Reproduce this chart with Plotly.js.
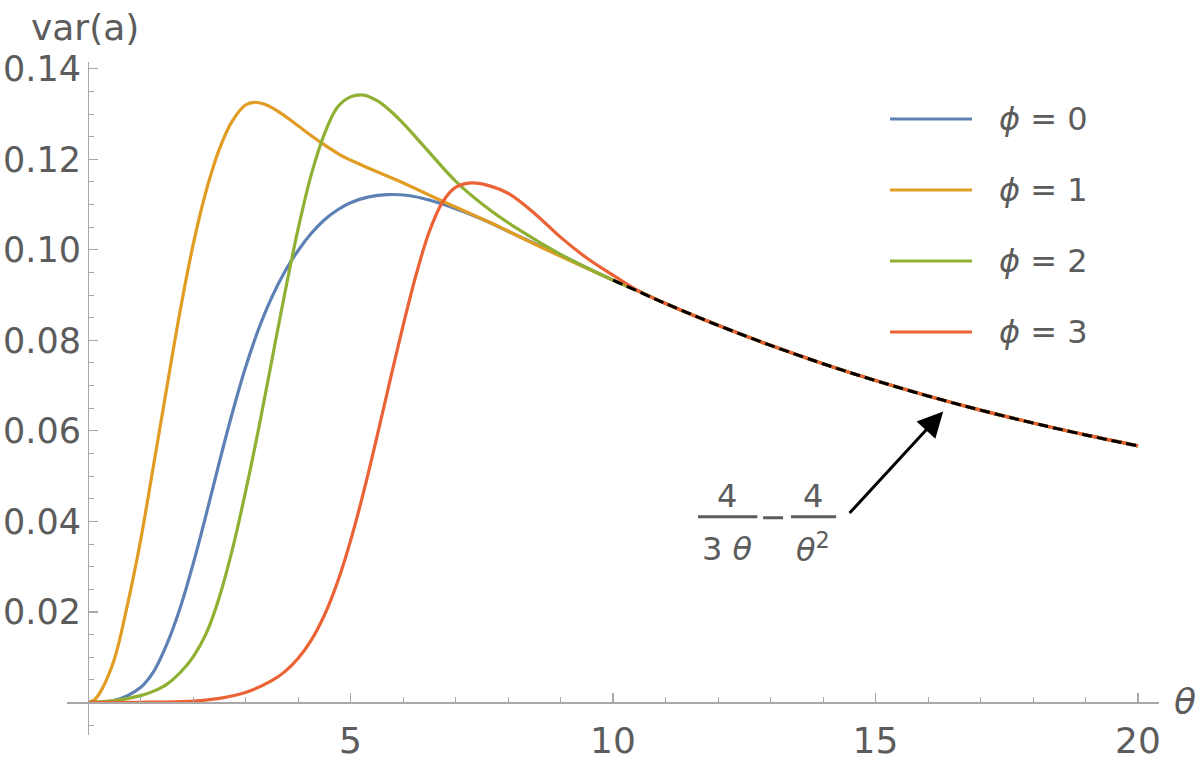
<!DOCTYPE html>
<html>
<head>
<meta charset="utf-8">
<script src="https://cdn.plot.ly/plotly-3.0.1.min.js"></script>
<style>html,body{margin:0;padding:0;background:#fff;}#chart{width:1200px;height:761px;}</style>
</head>
<body>
<div id="chart"></div>
<script>
// ---- data ----
const seriesNames = ["ϕ = 0", "ϕ = 1", "ϕ = 2", "ϕ = 3"];
const seriesColors = ["#5E81B5", "#E19C24", "#8FB032", "#EB6235"];

// common tail (all curves merge onto 4/(3θ) − 4/θ² beyond θ≈10)
const tailTheta = [10.5, 11, 12, 13, 14, 15, 16, 17, 18, 19, 20];
const tailVar   = [0.0908, 0.08815, 0.08333, 0.07890, 0.07483, 0.07111, 0.06771, 0.06459, 0.06173, 0.05910, 0.05667];

const theta0 = [0, 0.5, 1.0, 1.25, 1.5, 1.75, 2.0, 2.25, 2.5, 2.75, 3.0, 3.25, 3.5, 3.75, 4.0, 4.25, 4.5, 4.75, 5.0, 5.35, 5.7, 6.1, 6.5, 6.9, 7.5, 8.2, 9.0, 10];
const var0   = [0, 0.0004, 0.0033, 0.0068, 0.0128, 0.0207, 0.0305, 0.0415, 0.0530, 0.0640, 0.0740, 0.0825, 0.0895, 0.0952, 0.0998, 0.1036, 0.1066, 0.1088, 0.1104, 0.1117, 0.1122, 0.1120, 0.1110, 0.1095, 0.1068, 0.1030, 0.0988, 0.0933];

const theta1 = [0, 0.125, 0.25, 0.5, 0.75, 1.0, 1.25, 1.5, 1.75, 2.0, 2.25, 2.5, 2.75, 3.0, 3.17, 3.4, 3.7, 4.0, 4.4, 4.8, 5.2, 5.9, 6.8, 7.7, 8.5, 9.2, 10];
const var1   = [0, 0.0006, 0.0026, 0.0095, 0.0215, 0.0357, 0.0525, 0.0695, 0.0862, 0.1010, 0.1130, 0.1222, 0.1285, 0.1320, 0.1326, 0.1320, 0.1300, 0.1274, 0.1240, 0.1210, 0.1188, 0.1153, 0.1105, 0.1058, 0.1013, 0.0975, 0.0933];

const theta2 = [0, 0.5, 1.0, 1.25, 1.5, 1.75, 2.0, 2.25, 2.5, 2.75, 3.0, 3.25, 3.5, 3.75, 4.0, 4.25, 4.5, 4.75, 5.0, 5.25, 5.5, 5.75, 6.0, 6.45, 7.0, 7.6, 8.2, 9.0, 10];
const var2   = [0, 0.0004, 0.0015, 0.0025, 0.0040, 0.0065, 0.0100, 0.0152, 0.0232, 0.0338, 0.0465, 0.0605, 0.0755, 0.0905, 0.1045, 0.1165, 0.1255, 0.1315, 0.1338, 0.1342, 0.1330, 0.1308, 0.1280, 0.1222, 0.1152, 0.1093, 0.1045, 0.0990, 0.0933];

const theta3 = [0, 1.0, 2.0, 2.5, 3.0, 3.5, 3.75, 4.0, 4.25, 4.5, 4.75, 5.0, 5.25, 5.5, 5.75, 6.0, 6.25, 6.5, 6.75, 7.0, 7.3, 7.6, 8.0, 8.5, 9.0, 9.5, 10.0];
const var3   = [0, 0.00003, 0.0003, 0.0009, 0.0022, 0.0048, 0.0068, 0.0097, 0.0137, 0.0192, 0.0265, 0.0357, 0.0465, 0.0585, 0.0710, 0.0832, 0.0945, 0.1040, 0.1105, 0.1138, 0.1148, 0.1143, 0.1125, 0.1081, 0.1028, 0.0982, 0.0944];

// dashed asymptote 4/(3θ) − 4/θ²
const thetaAsym = [10, 11, 12, 13, 14, 15, 16, 17, 18, 19, 20];
const varAsym   = [0.09333, 0.08815, 0.08333, 0.07890, 0.07483, 0.07111, 0.06771, 0.06459, 0.06173, 0.05910, 0.05667];

const xTickVals = [5, 10, 15, 20];
const xTickText = ["5", "10", "15", "20"];
const yTickVals = [0.02, 0.04, 0.06, 0.08, 0.10, 0.12, 0.14];
const yTickText = ["0.02", "0.04", "0.06", "0.08", "0.10", "0.12", "0.14"];

// ---- build ----
const heads = [[theta0, var0], [theta1, var1], [theta2, var2], [theta3, var3]];
const traces = heads.map((h, i) => {
  const last = h[0][h[0].length - 1];
  const keep = tailTheta.map(t => t > last);
  return {
    type: "scatter", mode: "lines",
    x: h[0].concat(tailTheta.filter((t, k) => keep[k])),
    y: h[1].concat(tailVar.filter((v, k) => keep[k])),
    line: {color: seriesColors[i], width: 3.2, shape: "spline", smoothing: 1},
    name: seriesNames[i], showlegend: false, hoverinfo: "skip"
  };
});
traces.push({
  type: "scatter", mode: "lines", x: thetaAsym, y: varAsym,
  line: {color: "#000000", width: 3, dash: "10px,5px", shape: "spline"},
  showlegend: false, hoverinfo: "skip"
});

const xr = [-0.4, 20.4], yr = [-0.0072, 0.1415];
const M = {l: 67, r: 41, t: 62, b: 26};
const W = 1200, H = 761;
const PW = W - M.l - M.r, PH = H - M.t - M.b;
const px = v => (v - M.l) / PW;          // pixel x -> paper
const py = v => (H - M.b - v) / PH;      // pixel y -> paper

const txtCol = "#5c5c5c", axCol = "#a8a8a8";
const FONT = "DejaVu Sans, Arial, sans-serif";

const shapes = [];
const annotations = [];

// custom legend (long line samples as in reference)
const legY = [119, 190, 261, 332];
seriesNames.forEach((n, i) => {
  shapes.push({type: "line", xref: "paper", yref: "paper", x0: px(890), x1: px(972), y0: py(legY[i]), y1: py(legY[i]),
    line: {color: seriesColors[i], width: 3.2}});
  annotations.push({xref: "paper", yref: "paper", x: px(997), y: py(legY[i]), xanchor: "left", yanchor: "middle",
    showarrow: false, text: "<i>ϕ</i>" + n.slice(1), font: {family: FONT, size: 32, color: txtCol}});
});

// axis labels
annotations.push({xref: "paper", yref: "paper", x: px(85), y: py(28), xanchor: "center", yanchor: "middle",
  showarrow: false, text: "var(a)", font: {family: FONT, size: 36, color: txtCol}});
annotations.push({xref: "paper", yref: "paper", x: px(1185), y: py(701), xanchor: "center", yanchor: "middle",
  showarrow: false, text: "<i>θ</i>", font: {family: FONT, size: 36, color: txtCol}});

// formula label 4/(3θ) − 4/θ² (in data coordinates)
const fFont = {family: FONT, size: 32, color: txtCol};
annotations.push({x: 12.17, y: 0.0456, showarrow: false, text: "4", font: fFont, xanchor: "center", yanchor: "middle"});
annotations.push({x: 13.80, y: 0.0456, showarrow: false, text: "4", font: fFont, xanchor: "center", yanchor: "middle"});
annotations.push({x: 12.17, y: 0.0340, showarrow: false, text: "3 <i>θ</i>", font: fFont, xanchor: "center", yanchor: "middle"});
annotations.push({x: 13.80, y: 0.0342, showarrow: false, text: "<i>θ</i><sup>2</sup>", font: fFont, xanchor: "center", yanchor: "middle"});
shapes.push({type: "line", x0: 11.62, x1: 12.75, y0: 0.0410, y1: 0.0410, line: {color: txtCol, width: 3}});
shapes.push({type: "line", x0: 12.86, x1: 13.24, y0: 0.0408, y1: 0.0408, line: {color: txtCol, width: 3}});
shapes.push({type: "line", x0: 13.39, x1: 14.25, y0: 0.0410, y1: 0.0410, line: {color: txtCol, width: 3}});

// arrow
annotations.push({x: 16.29, y: 0.0643, ax: 14.48, ay: 0.0415, axref: "x", ayref: "y", text: "",
  showarrow: true, arrowhead: 2, arrowsize: 1.7, arrowwidth: 3, arrowcolor: "#000000"});

const layout = {
  width: W, height: H, margin: M,
  paper_bgcolor: "#ffffff", plot_bgcolor: "#ffffff",
  showlegend: false,
  xaxis: {
    range: xr, anchor: "free", position: -yr[0] / (yr[1] - yr[0]),
    showline: true, linecolor: axCol, linewidth: 1.2, zeroline: false, showgrid: false,
    ticks: "inside", ticklen: 9, tickwidth: 1.2, tickcolor: axCol,
    tickmode: "array", tickvals: xTickVals, ticktext: xTickText,
    minor: {tickmode: "array", tickvals: [1,2,3,4,6,7,8,9,11,12,13,14,16,17,18,19], ticks: "inside", ticklen: 5, tickwidth: 1, tickcolor: axCol},
    tickfont: {family: FONT, size: 36, color: txtCol}, ticklabelstandoff: 6
  },
  yaxis: {
    range: yr, anchor: "free", position: -xr[0] / (xr[1] - xr[0]),
    showline: true, linecolor: axCol, linewidth: 1.2, zeroline: false, showgrid: false,
    ticks: "inside", ticklen: 9, tickwidth: 1.2, tickcolor: axCol,
    tickmode: "array", tickvals: yTickVals, ticktext: yTickText,
    minor: {tickmode: "array", tickvals: [-0.005,0.005,0.01,0.015,0.025,0.03,0.035,0.045,0.05,0.055,0.065,0.07,0.075,0.085,0.09,0.095,0.105,0.11,0.115,0.125,0.13,0.135], ticks: "inside", ticklen: 5, tickwidth: 1, tickcolor: axCol},
    tickfont: {family: FONT, size: 35, color: txtCol}, ticklabelstandoff: 0
  },
  shapes: shapes,
  annotations: annotations
};

Plotly.newPlot("chart", traces, layout, {displayModeBar: false, staticPlot: true});
</script>
</body>
</html>
